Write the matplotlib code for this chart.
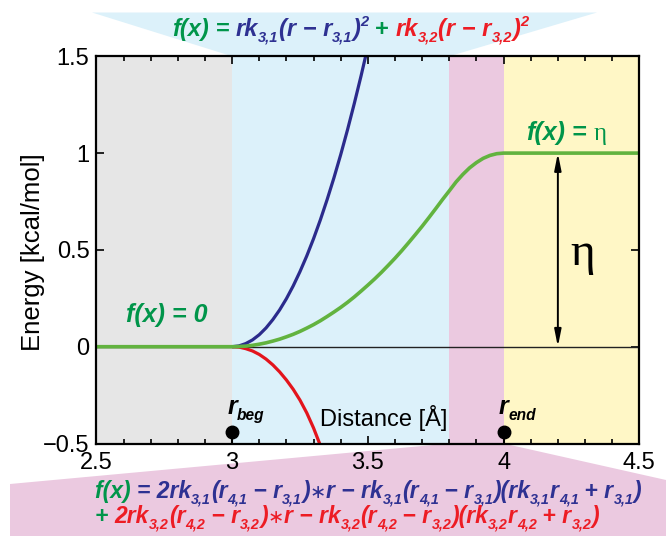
import matplotlib
matplotlib.use("Agg")
import matplotlib.pyplot as plt
from matplotlib.patches import Polygon
from matplotlib.transforms import IdentityTransform
from matplotlib.ticker import MultipleLocator

# ---------------- data ----------------
region_edges = [2.5, 3.0, 3.8, 4.0, 4.5]
region_colors = ["#e6e6e6", "#dcf1fa", "#ebc9e0", "#fff7c6"]

green_x = [2.5, 3.0, 3.025, 3.05, 3.075, 3.10, 3.125, 3.15, 3.175, 3.20, 3.225, 3.25,
           3.275, 3.30, 3.325, 3.35, 3.375, 3.40, 3.425, 3.45, 3.475, 3.50, 3.525,
           3.55, 3.575, 3.60, 3.625, 3.65, 3.675, 3.70, 3.725, 3.75, 3.775, 3.80,
           3.825, 3.85, 3.875, 3.90, 3.925, 3.95, 3.975, 4.0, 4.5]
green_y = [0.0, 0.0, 0.001, 0.003, 0.007, 0.013, 0.020, 0.029, 0.039, 0.051, 0.064, 0.079,
           0.096, 0.114, 0.134, 0.156, 0.179, 0.203, 0.229, 0.257, 0.287, 0.318, 0.350,
           0.384, 0.420, 0.457, 0.496, 0.537, 0.579, 0.622, 0.667, 0.713, 0.760, 0.805,
           0.851, 0.890, 0.924, 0.951, 0.973, 0.988, 0.997, 1.0, 1.0]

blue_x = [3.0, 3.025, 3.05, 3.075, 3.10, 3.125, 3.15, 3.175, 3.20, 3.225, 3.25,
          3.275, 3.30, 3.325, 3.35, 3.375, 3.40, 3.425, 3.45, 3.475, 3.50]
blue_y = [0.0, 0.004, 0.016, 0.035, 0.062, 0.097, 0.140, 0.190, 0.248, 0.314, 0.388,
          0.469, 0.558, 0.655, 0.760, 0.872, 0.992, 1.120, 1.256, 1.399, 1.550]

red_x = [3.0, 3.025, 3.05, 3.075, 3.10, 3.125, 3.15, 3.175, 3.20, 3.225, 3.25,
         3.275, 3.30, 3.325, 3.35]
red_y = [0.0, -0.002, -0.010, -0.022, -0.040, -0.064, -0.094, -0.130, -0.172, -0.220,
         -0.276, -0.342, -0.420, -0.510, -0.610]

eta = 1.0
r_beg, r_end = 3.0, 4.0
marker_y = -0.44

x_ticks = [2.5, 3.0, 3.5, 4.0, 4.5]
x_tick_labels = ["2.5", "3", "3.5", "4", "4.5"]
y_ticks = [-0.5, 0.0, 0.5, 1.0, 1.5]
y_tick_labels = ["\u22120.5", "0", "0.5", "1", "1.5"]

GREEN_T = "#00954a"
BLUE_T = "#2e3192"
RED_T = "#ed1c24"
GREEN_L = "#62b33f"
BLUE_L = "#2b2b8c"
RED_L = "#e3141c"

W, H = 666, 536
fig = plt.figure(figsize=(W / 100, H / 100), dpi=100)
ax = fig.add_axes([96.4 / W, 1 - 443.5 / H, (639.3 - 96.4) / W, (443.5 - 56.3) / H])
ax.set_facecolor("none")
ax.set_xlim(2.5, 4.5)
ax.set_ylim(-0.5, 1.5)

for i, c in enumerate(region_colors):
    ax.axvspan(region_edges[i], region_edges[i + 1], color=c, lw=0, zorder=0)

ax.axhline(0, color="#222222", lw=1.0, zorder=2)
ax.plot(blue_x, blue_y, color=BLUE_L, lw=2.3, zorder=3, solid_capstyle="butt")
ax.plot(red_x, red_y, color=RED_L, lw=2.3, zorder=3, solid_capstyle="butt")
ax.plot(green_x, green_y, color=GREEN_L, lw=2.6, zorder=4, solid_capstyle="butt",
        solid_joinstyle="round")

ax.set_xticks(x_ticks)
ax.set_xticklabels(x_tick_labels)
ax.set_yticks(y_ticks)
ax.set_yticklabels(y_tick_labels)
ax.xaxis.set_minor_locator(MultipleLocator(0.1))
ax.tick_params(which="both", direction="in", top=True, right=True, width=1.2,
               labelsize=17)
ax.tick_params(axis="x", pad=6)
ax.tick_params(axis="y", pad=5)
ax.tick_params(which="major", length=6)
ax.tick_params(which="minor", length=3.5)
for lab in ax.get_xticklabels() + ax.get_yticklabels():
    lab.set_fontfamily("Liberation Sans")
for s in ax.spines.values():
    s.set_linewidth(1.6)
    s.set_zorder(6)

# arrow for eta
ax.annotate("", xy=(4.2, eta), xytext=(4.2, 0),
            arrowprops=dict(arrowstyle="<|-|>,head_length=1.0,head_width=0.2",
                            color="black", lw=1.4, shrinkA=0, shrinkB=0), zorder=5)
ax.text(4.29, 0.48, "\u03b7", fontsize=34, family="Liberation Serif",
        ha="center", va="center", zorder=5)

# markers
ax.plot([r_beg, r_end], [marker_y, marker_y], "o", color="black", ms=9,
        clip_on=False, zorder=7)
ax.vlines([r_beg, r_end], -0.5, marker_y, color="black", lw=1.5, zorder=7)

ax.text(3.557, -0.41, "Distance [\u00c5]", fontsize=17, family="Liberation Sans",
        ha="center", va="baseline", zorder=5)
fig.text(33 / W, 1 - 252 / H, "Energy [kcal/mol]", fontsize=18.5, family="Liberation Sans",
         rotation=90, ha="center", va="center")

# --------- banners ---------
trans = ax.transData
b_l = trans.transform((3.0, 1.5))
b_r = trans.transform((3.8, 1.5))
top_poly = Polygon([(92, H - 12.5), (597, H - 12.5), tuple(b_r), tuple(b_l)],
                   closed=True, facecolor="#dcf1fa", edgecolor="none",
                   transform=IdentityTransform(), zorder=-5)
fig.patches.append(top_poly)
p_l = trans.transform((3.8, -0.5))
p_r = trans.transform((4.0, -0.5))
bot_poly = Polygon([tuple(p_l), tuple(p_r), (W, H - 480), (W, 0), (10, 0), (10, H - 484)],
                   closed=True, facecolor="#ebc9e0", edgecolor="none",
                   transform=IdentityTransform(), zorder=-5)
fig.patches.append(bot_poly)

# --------- rich text helper ---------
renderer = fig.canvas.get_renderer()
FAM = ["Liberation Sans", "DejaVu Sans"]


def measure(s, fs, weight, style, family):
    def w(txt):
        t = fig.text(0, 0, txt, fontsize=fs, fontweight=weight, fontstyle=style,
                     family=family, transform=IdentityTransform())
        ww = t.get_window_extent(renderer).width
        t.remove()
        return ww
    return w("x" + s + "x") - w("xx")


def rich(x, y, segs, size, ha="left", weight="bold", style="italic", family=FAM):
    items = []
    for seg in segs:
        s, c, k = seg
        fs = size * 0.62 if k in ("sub", "sup") else size
        dy = {"n": 0.0, "g": 0.0, "op": 0.0,
              "sub": -0.24 * size, "sup": 0.42 * size}[k] * 100 / 72
        fam = family
        wt, st = weight, style
        if k == "g":
            fam, wt, st = ["Liberation Serif"], "normal", "normal"
        if k == "op":
            fam, wt, st, fs = ["DejaVu Sans"], "normal", "normal", size * 0.85
        w = measure(s, fs, wt, st, fam)
        items.append((s, c, fs, dy, w, fam, wt, st))
    total = sum(it[4] for it in items)
    x0 = x - total / 2 if ha == "center" else x
    for s, c, fs, dy, w, fam, wt, st in items:
        fig.text(x0, y + dy, s, fontsize=fs, color=c, fontweight=wt, fontstyle=st,
                 family=fam, transform=IdentityTransform(), ha="left", va="baseline",
                 zorder=10)
        x0 += w


G, B, R = GREEN_T, BLUE_T, RED_T
title = [("f(x)", G, "n"), (" = ", G, "n"), ("rk", B, "n"), ("3,1", B, "sub"),
         ("(r \u2212 r", B, "n"), ("3,1", B, "sub"), (")", B, "n"), ("2", B, "sup"),
         (" + ", G, "n"), ("rk", R, "n"), ("3,2", R, "sub"), ("(r \u2212 r", R, "n"),
         ("3,2", R, "sub"), (")", R, "n"), ("2", R, "sup")]
rich(350, H - 36, title, 17, ha="center")

line1 = [("f(x) ", G, "n"), ("= 2rk", B, "n"), ("3,1", B, "sub"), ("(r", B, "n"),
         ("4,1", B, "sub"), (" \u2212 r", B, "n"), ("3,1", B, "sub"), (")", B, "n"),
         ("\u2217", B, "op"), ("r \u2212 rk", B, "n"), ("3,1", B, "sub"), ("(r", B, "n"),
         ("4,1", B, "sub"), (" \u2212 r", B, "n"), ("3,1", B, "sub"), (")(rk", B, "n"),
         ("3,1", B, "sub"), ("r", B, "n"), ("4,1", B, "sub"), (" + r", B, "n"),
         ("3,1", B, "sub"), (")", B, "n")]
rich(95, H - 498, line1, 16.5)
line2 = [("+ ", G, "n"), ("2rk", R, "n"), ("3,2", R, "sub"), ("(r", R, "n"),
         ("4,2", R, "sub"), (" \u2212 r", R, "n"), ("3,2", R, "sub"), (")", R, "n"),
         ("\u2217", R, "op"), ("r \u2212 rk", R, "n"), ("3,2", R, "sub"), ("(r", R, "n"),
         ("4,2", R, "sub"), (" \u2212 r", R, "n"), ("3,2", R, "sub"), (")(rk", R, "n"),
         ("3,2", R, "sub"), ("r", R, "n"), ("4,2", R, "sub"), (" + r", R, "n"),
         ("3,2", R, "sub"), (")", R, "n")]
rich(95, H - 523, line2, 16.5)

# in-plot labels
px, py = trans.transform((2.76, 0.164))
rich(px, py - 7, [("f(x) = 0", G, "n")], 18, ha="center")
px, py = trans.transform((4.23, 1.07))
rich(px, py, [("f(x)", G, "n"), (" = ", G, "n"), ("\u03b7", G, "g")], 18, ha="center")

px, py = trans.transform((r_beg, marker_y))
rich(px - 5, py + 18, [("r", "black", "n"), ("beg", "black", "sub")], 18)
px, py = trans.transform((r_end, marker_y))
rich(px - 5, py + 18, [("r", "black", "n"), ("end", "black", "sub")], 18)

fig.savefig("out.png", dpi=100)
